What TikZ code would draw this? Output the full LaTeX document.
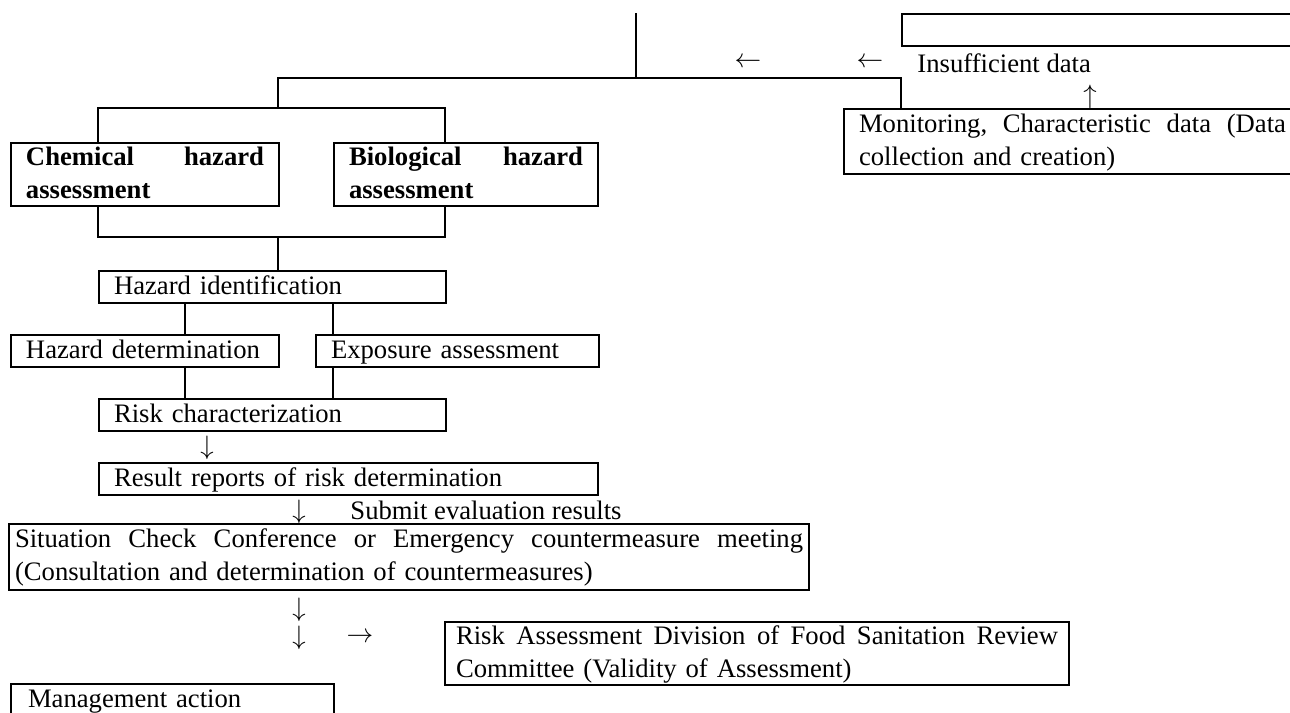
\documentclass[tikz,border=0pt]{standalone}
\usepackage{fontspec}
\setmainfont{Liberation Serif}
\newcommand\boxstrut{\vrule width0pt height10pt depth3.5pt}
\tikzset{
  box/.style={draw,line width=0.9pt,anchor=north west,inner xsep=6.75pt,inner ysep=0pt,align=left,minimum height=14.4pt,font=\fontsize{12}{14.85}\selectfont,execute at begin node=\boxstrut,execute at end node=\boxstrut},
  link/.style={line width=0.9pt},
  sign/.style={inner sep=0pt,font=\fontsize{12}{14.85}\selectfont}
}
\begin{document}
\begin{tikzpicture}[x=0.45pt,y=-0.45pt]
	\useasboundingbox (0,0) rectangle (1290,713);
	\clip (0,0) rectangle (1290,713);
	\node[box,text width=166.05pt] (blank) at (901,13) {};
	\node[box,text width=192.15pt,minimum height=29.25pt] (mon) at (843,108) {Monitoring,\hfill Characteristic\hfill data\hfill (Data\\collection and creation)};
	\node[box,text width=107.1pt,minimum height=28.35pt,font=\fontsize{12}{14.85}\selectfont\bfseries] (chem) at (10,142) {Chemical\hfill hazard\\assessment};
	\node[box,text width=105.3pt,minimum height=28.35pt,font=\fontsize{12}{14.85}\selectfont\bfseries] (bio) at (333,142) {Biological\hfill hazard\\assessment};
	\node[box,text width=142.65pt] (hazid) at (98,270) {Hazard identification};
	\node[box,text width=107.1pt] (hazdet) at (10,334) {Hazard determination};
	\node[box,text width=113.85pt] (expo) at (315,334) {Exposure assessment};
	\node[box,text width=142.65pt] (riskc) at (98,398) {Risk characterization};
	\node[box,text width=211.05pt] (result) at (98,462) {Result reports of risk determination};
	\node[box,inner xsep=2.7pt,text width=354.6pt,minimum height=29.7pt] (meet) at (8,523) {Situation\hfill Check\hfill Conference\hfill or\hfill Emergency\hfill countermeasure\hfill meeting\\(Consultation and determination of countermeasures)};
	\node[box,inner xsep=4.95pt,text width=270.9pt,minimum height=27.9pt] (review) at (444,621) {Risk\hfill Assessment\hfill Division\hfill of\hfill Food\hfill Sanitation\hfill Review\\Committee (Validity of Assessment)};
	\node[box,inner xsep=7.65pt,text width=130.05pt] (action) at (10,683) {Management action};
	\node[sign] (l1) at (748,63) {$\leftarrow$};
	\node[sign] (l2) at (870,63) {$\leftarrow$};
	\node[sign,anchor=west] (lack) at (917,63) {Insufficient data};
	\node[sign] (up) at (1090,97) {$\uparrow$};
	\node[sign] (d1) at (207,448) {$\downarrow$};
	\node[sign] (d2) at (299,512) {$\downarrow$};
	\node[sign,anchor=west] (submit) at (350,510) {Submit evaluation results};
	\node[sign] (d3) at (299,610) {$\downarrow$};
	\node[sign] (d4) at (299,638) {$\downarrow$};
	\node[sign] (r1) at (360,638) {$\rightarrow$};
	\coordinate (feed) at (636,13);
	\coordinate (bus) at (636,78);
	\coordinate (busL) at (278,78);
	\coordinate (busR) at (901,78);
	\coordinate (forkL) at (98,108);
	\coordinate (forkR) at (445,108);
	\coordinate (mergeL) at (98,237);
	\coordinate (mergeR) at (445,237);
	\coordinate (colA) at (185,0);
	\coordinate (colB) at (333,0);
	\draw[link] (feed)--(bus);
	\draw[link] (busL |- forkL)--(busL)--(busR)--(busR |- mon.north);
	\draw[link] (chem.north -| forkL)--(forkL)--(forkR)--(bio.north -| forkR);
	\draw[link] (chem.south -| mergeL)--(mergeL)--(mergeR)--(bio.south -| mergeR);
	\draw[link] (busL |- mergeL)--(busL |- hazid.north);
	\draw[link] (hazid.south -| colA)--(hazdet.north -| colA);
	\draw[link] (hazid.south -| colB)--(expo.north -| colB);
	\draw[link] (hazdet.south -| colA)--(riskc.north -| colA);
	\draw[link] (expo.south -| colB)--(riskc.north -| colB);
\end{tikzpicture}
\end{document}
